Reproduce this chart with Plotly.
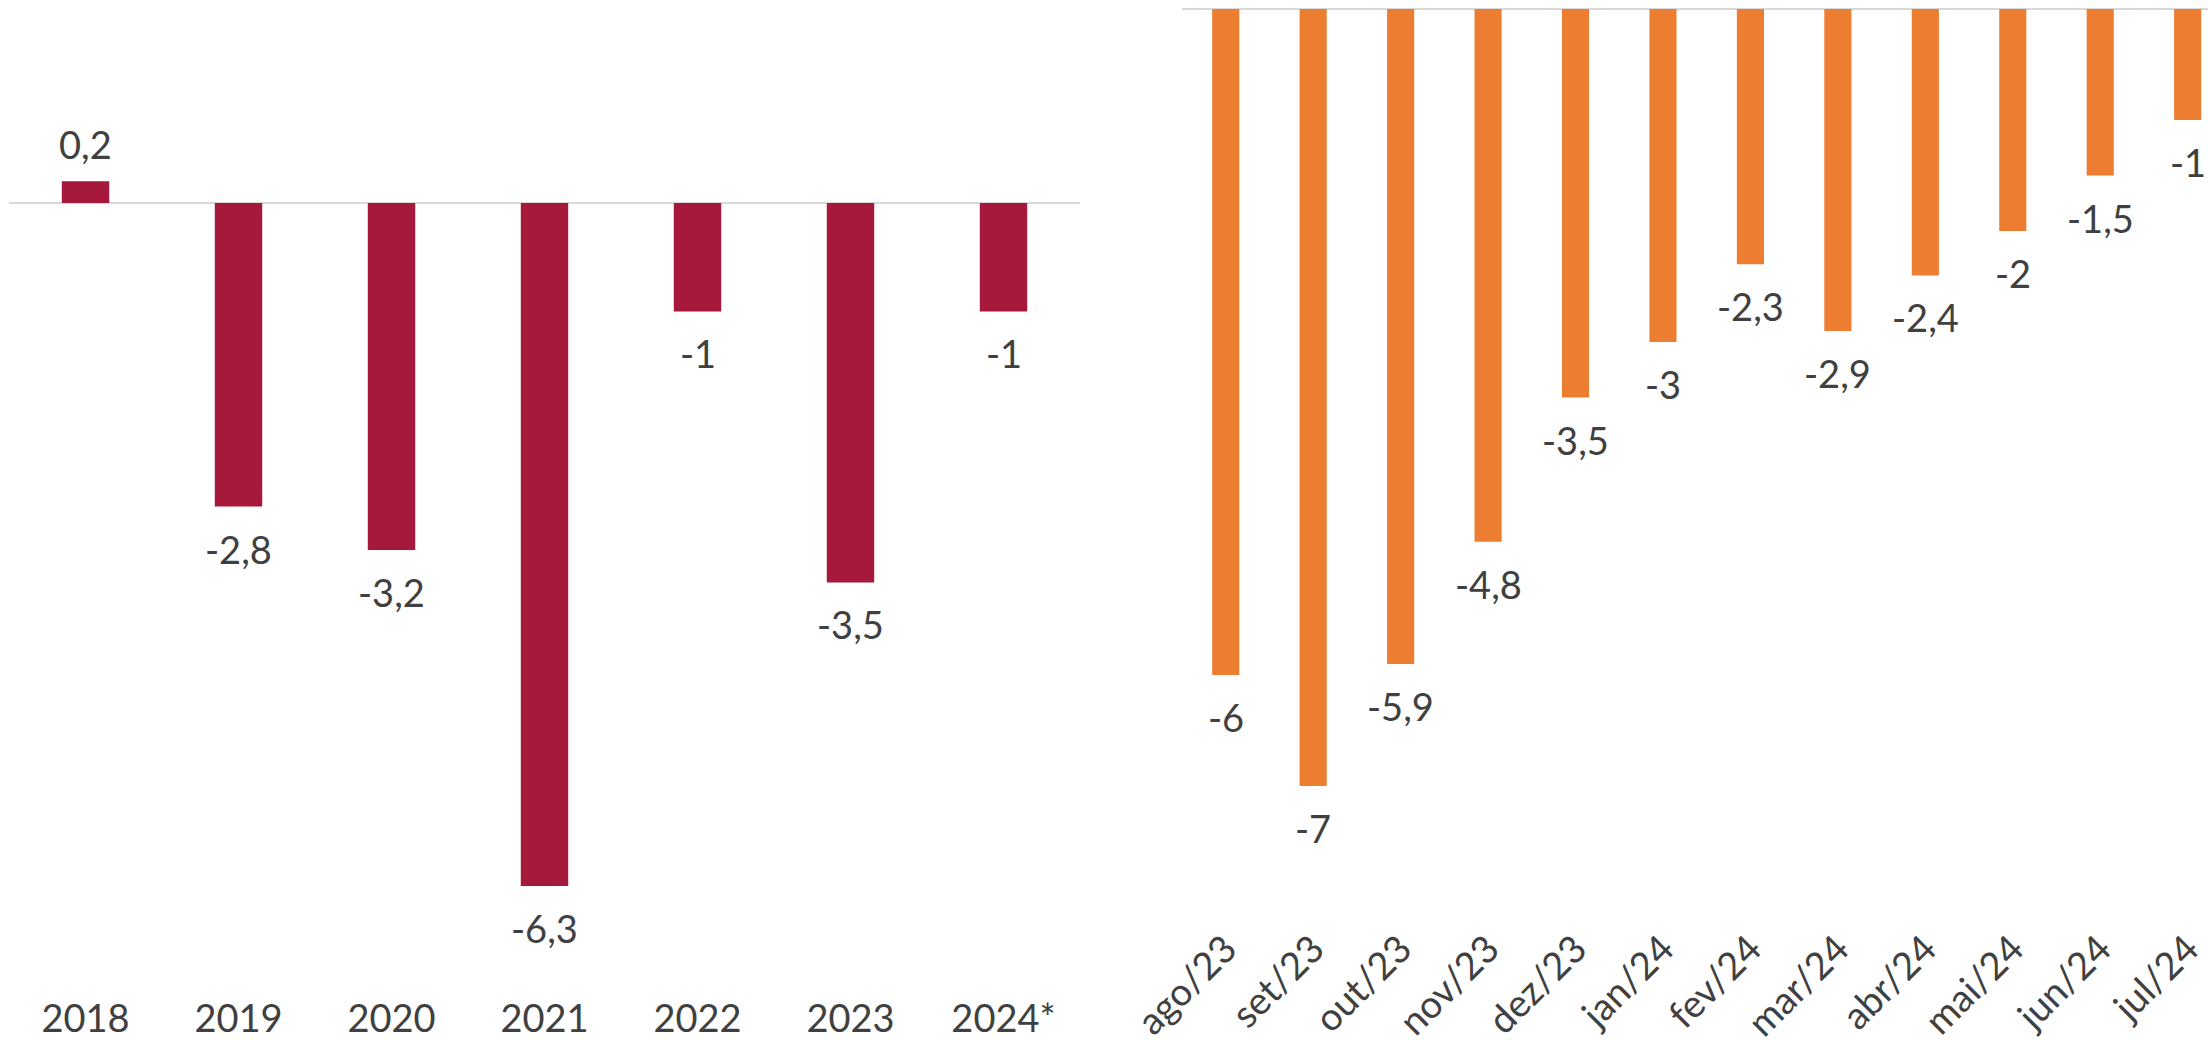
import plotly.graph_objects as go

# ---- data ----
years = ["2018", "2019", "2020", "2021", "2022", "2023", "2024*"]
annual_values = [0.2, -2.8, -3.2, -6.3, -1, -3.5, -1]

months = ["ago/23", "set/23", "out/23", "nov/23", "dez/23", "jan/24",
          "fev/24", "mar/24", "abr/24", "mai/24", "jun/24", "jul/24"]
monthly_values = [-6, -7, -5.9, -4.8, -3.5, -3, -2.3, -2.9, -2.4, -2, -1.5, -1]

# ---- styles ----
W, H = 2208, 1040
FONT = "Lato"
TXT = "#404040"
RED = "#A6193C"
ORANGE = "#ED7D31"
ZL = "#D9D9D9"
FS = 38


def fmt(v):
    return f"{v:g}".replace(".", ",")


fig = go.Figure()
fig.add_trace(go.Bar(x=years, y=annual_values, marker_color=RED,
                     marker_line_width=0, xaxis="x", yaxis="y",
                     hoverinfo="skip"))
fig.add_trace(go.Bar(x=months, y=monthly_values, marker_color=ORANGE,
                     marker_line_width=0, xaxis="x2", yaxis="y2",
                     hoverinfo="skip"))

annotations = []
for i, v in enumerate(annual_values):
    annotations.append(dict(x=i, y=v, xref="x", yref="y", text=fmt(v),
                            showarrow=False, yanchor="middle",
                            yshift=37 if v >= 0 else -42,
                            font=dict(family=FONT, size=FS, color=TXT)))
for i, v in enumerate(monthly_values):
    annotations.append(dict(x=i, y=v, xref="x2", yref="y2", text=fmt(v),
                            showarrow=False, yanchor="middle",
                            yshift=37 if v >= 0 else -42,
                            font=dict(family=FONT, size=FS, color=TXT)))

# pixel geometry
L_x0, L_x1 = 9, 1080
L_bottom, L_zero, L_ppu = 993, 203, 108.4
R_x0, R_x1 = 1182, 2208
R_bottom, R_zero, R_ppu = 918, 9, 111.0
R_cat = 87.45

fig.update_layout(
    width=W, height=H,
    margin=dict(l=0, r=0, t=0, b=0, autoexpand=False),
    paper_bgcolor="white", plot_bgcolor="white",
    showlegend=False,
    bargap=0.69,
    annotations=annotations,
    font=dict(family=FONT, size=FS, color=TXT),
    xaxis=dict(type="category", domain=[L_x0 / W, L_x1 / W], range=[-0.5, 6.5],
               showgrid=False, zeroline=False, showline=False, ticks="",
               tickfont=dict(family=FONT, size=FS, color=TXT),
               anchor="y", fixedrange=True, automargin=False),
    yaxis=dict(domain=[(H - L_bottom) / H, 1],
               range=[-(L_bottom - L_zero) / L_ppu, L_zero / L_ppu],
               showgrid=False, showticklabels=False, ticks="",
               zeroline=True, zerolinecolor=ZL, zerolinewidth=2,
               anchor="x", fixedrange=True, automargin=False),
    xaxis2=dict(type="category", domain=[R_x0 / W, 1],
                range=[-0.5, -0.5 + (R_x1 - R_x0) / R_cat],
                showgrid=False, zeroline=False, showline=False, ticks="",
                tickangle=-45,
                tickfont=dict(family=FONT, size=FS, color=TXT),
                anchor="y2", fixedrange=True, automargin=False),
    yaxis2=dict(domain=[(H - R_bottom) / H, 1],
                range=[-(R_bottom - R_zero) / R_ppu, R_zero / R_ppu],
                showgrid=False, showticklabels=False, ticks="",
                zeroline=True, zerolinecolor=ZL, zerolinewidth=2,
                anchor="x2", fixedrange=True, automargin=False),
)

fig.write_html("out.html", config={"displayModeBar": False},
               post_script="document.body.style.margin='0';"
                           "document.body.style.overflow='hidden';")
